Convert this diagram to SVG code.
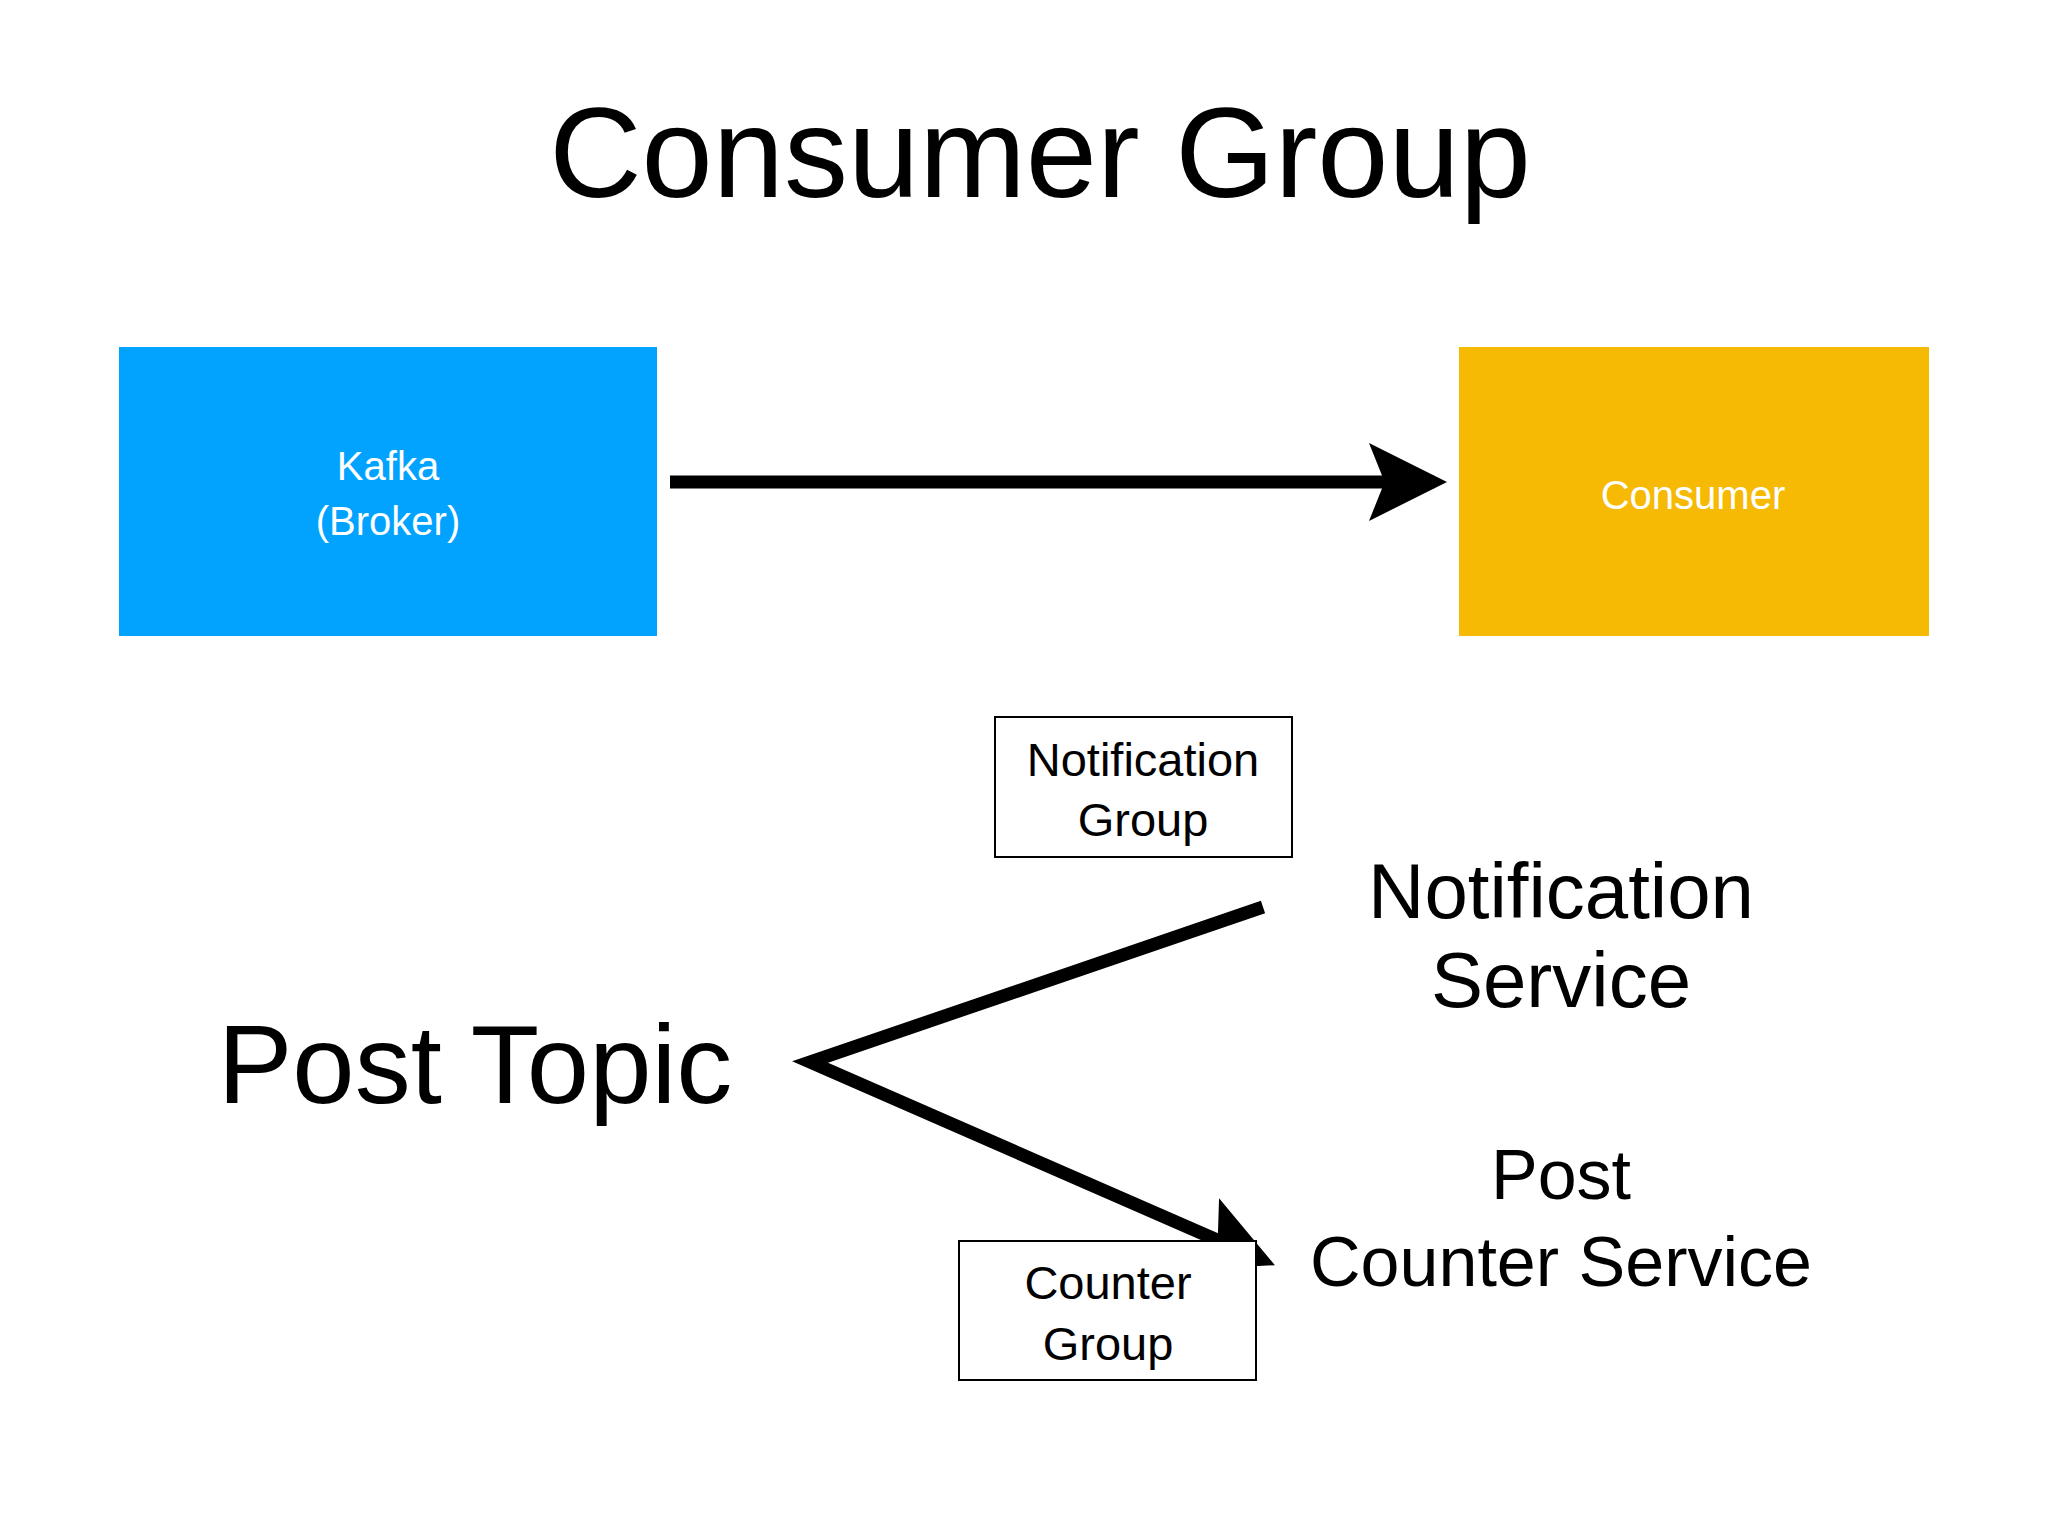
<svg xmlns="http://www.w3.org/2000/svg" width="2048" height="1536" viewBox="0 0 2048 1536">
<style>
text{font-family:"Liberation Sans",Arial,sans-serif;text-anchor:middle;dominant-baseline:central;fill:#000}
.w{fill:#fff;font-size:40px}
.lbl{fill:#fff;stroke:#000;stroke-width:2}
</style>
<defs>
<marker id="ah" markerWidth="6" markerHeight="6" refX="5" refY="3" orient="auto" markerUnits="strokeWidth">
<path d="M0,0 L6,3 L0,6 L1.2,3 Z" fill="#000"/>
</marker>
</defs>
<rect width="2048" height="1536" fill="#fff"/>
<text x="1040" y="152" font-size="128">Consumer Group</text>
<g id="kafka"><rect x="119" y="347" width="538" height="289" fill="#02A3FF"/>
<text class="w" x="388" y="466">Kafka</text><text class="w" x="388" y="521">(Broker)</text></g>
<g id="consumer"><rect x="1459" y="347" width="470" height="289" fill="#F6BA05"/>
<text class="w" x="1693" y="495">Consumer</text></g>
<g id="posttopic"><text x="475" y="1064" font-size="112">Post Topic</text></g>
<g id="notifservice"><text x="1561" y="891" font-size="78">Notification</text><text x="1561" y="980" font-size="78">Service</text></g>
<g id="counterservice"><text x="1561" y="1175" font-size="70">Post</text><text x="1561" y="1262" font-size="70">Counter Service</text></g>
<g id="connectors" stroke="#000" stroke-width="13" fill="none">
<line x1="670" y1="482" x2="1434" y2="482" marker-end="url(#ah)"/>
<polyline points="1263,907 810,1062 1263,1260" marker-end="url(#ah)"/>
</g>
<g id="notifgroup"><rect class="lbl" x="995" y="717" width="297" height="140"/>
<text x="1143" y="759" font-size="47">Notification</text><text x="1143" y="819" font-size="47">Group</text></g>
<g id="countergroup"><rect class="lbl" x="959" y="1241" width="297" height="139"/>
<text x="1108" y="1282" font-size="47">Counter</text><text x="1108" y="1343" font-size="47">Group</text></g>
</svg>
